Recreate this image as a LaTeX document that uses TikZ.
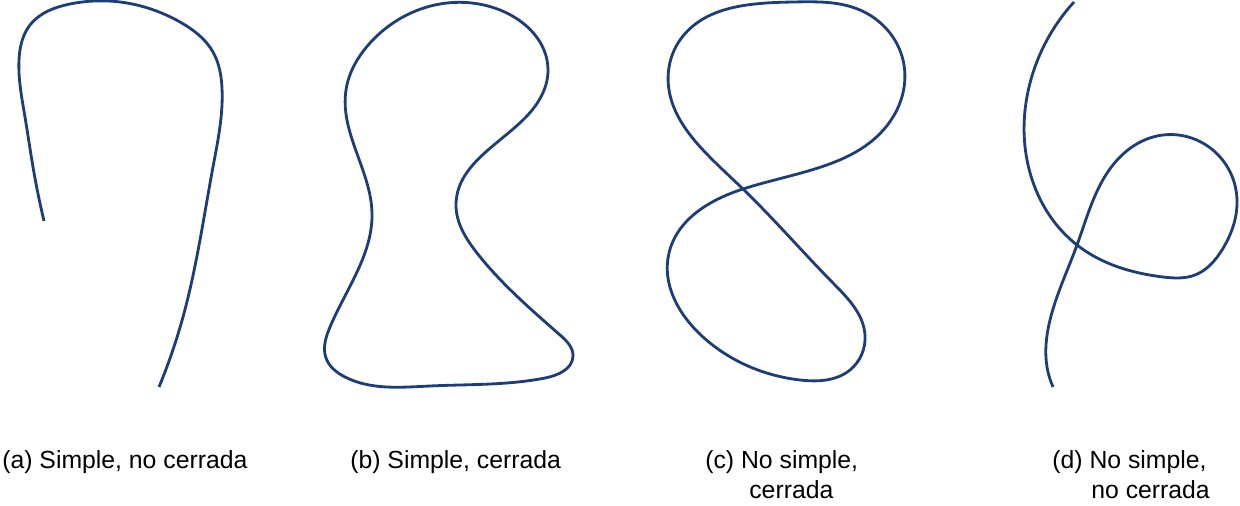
\documentclass[tikz,border=0pt]{standalone}
\usepackage{fontspec}
\setmainfont{Liberation Sans}
\usepackage{tikz}
\usetikzlibrary{hobby}
\definecolor{azulcurva}{RGB}{30,60,118}

\begin{document}
\begin{tikzpicture}[x=0.02cm,y=-0.02cm,use Hobby shortcut,
              curva/.style={draw=azulcurva, line width=1.6pt, line join=round},
              leyenda/.style={anchor=base west, inner sep=0pt, font=\fontsize{14.1}{17}\selectfont}]
  \useasboundingbox (0,0) rectangle (1240,506);
  % (a) simple, no cerrada
  \draw[curva] (44,221) .. (33,167) .. (25,117) .. (19,60) .. (30,25) .. (70,4) .. (120,2) .. (180,22) .. (213,52) .. (222,88) .. (213,167) .. (183,317) .. (159,387);
  % (b) simple, cerrada
  \draw[curva, closed=true] (346,90) .. (372,213) .. (330,327) .. (326,358) .. (345,377) .. (430,386) .. (545,378) .. (573,356) .. (560,335) .. (477,253) .. (456,205) .. (523,120) .. (548,70) .. (500,10) .. (440,4) .. (370,43);
  % (c) no simple, cerrada
  \draw[curva, closed=true] (793,2) .. (680,40) .. (669,90) .. (703,150) .. (743,189) .. (833,283) .. (865,335) .. (850,370) .. (800,380) .. (703,337) .. (669,253) .. (743,189) .. (893,117) .. (903,60) .. (860,10);
  % (d) no simple, no cerrada
  \draw[curva] (1074,2) .. (1030,83) .. (1027,160) .. (1077,245) .. (1163,277) .. (1195,275) .. (1222,250) .. (1237,200) .. (1228,168) .. (1163,135) .. (1120,157) .. (1077,245) .. (1050,320) .. (1047,367) .. (1053,387);
  % leyendas
  \node[leyenda] (capA) at (2,468) {(a) Simple, no cerrada};
  \node[leyenda] (capB) at (350,468) {(b) Simple, cerrada};
  \node[leyenda] (capC) at (705,468) {(c) No simple,};
  \node[leyenda] (capCc) at (749,498) {cerrada};
  \node[leyenda] (capD) at (1052,468) {(d) No simple,};
  \node[leyenda] (capDd) at (1091,498) {no cerrada};
\end{tikzpicture}
\end{document}
